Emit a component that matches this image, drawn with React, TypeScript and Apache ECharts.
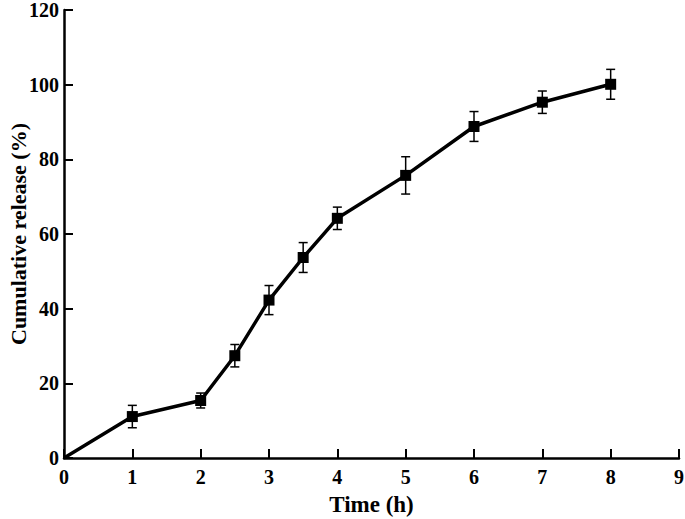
import React, { useEffect, useRef } from "react";
import * as echarts from "echarts";

const times = [0, 1, 2, 2.5, 3, 3.5, 4, 5, 6, 7, 8];
const release = [0, 11.1, 15.4, 27.4, 42.3, 53.7, 64.2, 75.7, 88.8, 95.3, 100.1];
const errors = [0, 3, 2, 3, 3.9, 4, 3, 5, 4, 3, 4];
const xTicks = [0, 1, 2, 3, 4, 5, 6, 7, 8, 9];
const yTicks = [0, 20, 40, 60, 80, 100, 120];

const FONT = "'Liberation Serif', 'Times New Roman', serif";

export default function App() {
  const ref = useRef<HTMLDivElement>(null);
  useEffect(() => {
    if (!ref.current) return;
    const chart = echarts.init(ref.current, null, { renderer: "svg" });
    const lineData = times.map((t, i) =>
      i === 0 ? { value: [t, release[i]], symbol: "none" } : { value: [t, release[i]] }
    );
    const errData = times
      .map((t, i) => [t, release[i] - errors[i], release[i] + errors[i]])
      .filter((_, i) => errors[i] > 0);
    chart.setOption({
      animation: false,
      backgroundColor: "#fff",
      grid: { left: 64, right: 6, top: 10, bottom: 61, containLabel: false, outerBoundsMode: "none" },
      xAxis: {
        type: "value",
        min: xTicks[0],
        max: xTicks[xTicks.length - 1],
        interval: 1,
        name: "Time (h)",
        nameLocation: "middle",
        nameGap: 34,
        nameMoveOverlap: false,
        nameTextStyle: { fontFamily: FONT, fontWeight: "bold", fontSize: 23, lineHeight: 24, color: "#000" },
        axisLine: { show: true, lineStyle: { color: "#000", width: 2.5 } },
        axisTick: { show: true, inside: true, length: 9, lineStyle: { color: "#000", width: 2 } },
        axisLabel: { fontFamily: FONT, fontWeight: "bold", fontSize: 20, color: "#000", margin: 9 },
        splitLine: { show: false },
      },
      yAxis: {
        type: "value",
        min: yTicks[0],
        max: yTicks[yTicks.length - 1],
        interval: 20,
        name: "Cumulative release (%)",
        nameLocation: "middle",
        nameGap: 34,
        nameMoveOverlap: false,
        nameTextStyle: { fontFamily: FONT, fontWeight: "bold", fontSize: 22, lineHeight: 24, color: "#000" },
        axisLine: { show: true, lineStyle: { color: "#000", width: 2.5 } },
        axisTick: { show: true, inside: true, length: 9, lineStyle: { color: "#000", width: 2 } },
        axisLabel: { fontFamily: FONT, fontWeight: "bold", fontSize: 20, color: "#000", margin: 5 },
        splitLine: { show: false },
      },
      series: [
        {
          type: "custom",
          data: errData,
          z: 3,
          renderItem: (params: any, api: any) => {
            const x = api.value(0);
            const lo = api.coord([x, api.value(1)]);
            const hi = api.coord([x, api.value(2)]);
            const hw = 4.5;
            const style = { stroke: "#000", lineWidth: 1.5 };
            return {
              type: "group",
              children: [
                { type: "line", shape: { x1: lo[0], y1: lo[1], x2: hi[0], y2: hi[1] }, style },
                { type: "line", shape: { x1: lo[0] - hw, y1: lo[1], x2: lo[0] + hw, y2: lo[1] }, style },
                { type: "line", shape: { x1: hi[0] - hw, y1: hi[1], x2: hi[0] + hw, y2: hi[1] }, style },
              ],
            };
          },
        },
        {
          type: "line",
          data: lineData,
          z: 4,
          symbol: "rect",
          symbolSize: 11,
          showAllSymbol: true,
          lineStyle: { color: "#000", width: 3.5 },
          itemStyle: { color: "#000" },
        },
      ],
    });
    return () => chart.dispose();
  }, []);
  return (
    <div
      ref={ref}
      style={{ position: "absolute", left: 0, top: 0, width: 685, height: 519, background: "#fff" }}
    />
  );
}
